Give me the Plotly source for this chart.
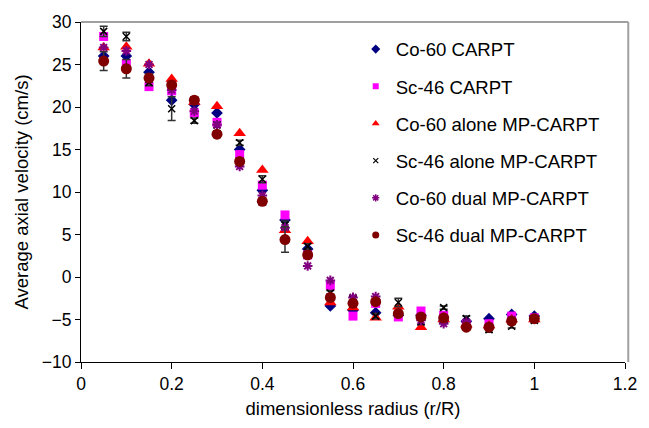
import plotly.graph_objects as go

r = [0.05, 0.1, 0.15, 0.2, 0.25, 0.3, 0.35, 0.4, 0.45, 0.5,
     0.55, 0.6, 0.65, 0.7, 0.75, 0.8, 0.85, 0.9, 0.95, 1.0]

co60_carpt = [26.0, 26.0, 24.1, 20.8, 20.3, 19.3, 15.0, 10.2, 6.7, 3.3,
              -3.4, -3.9, -4.2, -4.5, -4.5, -5.2, -5.2, -4.9, -4.4, -4.6]
sc46_carpt = [28.3, 25.1, 22.4, 21.9, 19.3, 18.2, 14.4, 10.8, 7.3, 2.6,
              -1.0, -4.6, -3.1, -4.7, -4.0, -4.5, -5.6, -5.5, -4.6, -4.8]
co60_alone = [27.0, 27.1, 25.1, 23.3, 20.6, 20.1, 16.9, 12.6, 5.5, 4.2,
              -3.0, -3.6, -4.8, -3.5, -5.9, -5.0, -5.6, -5.7, -5.0, -5.0]
sc46_alone = [28.9, 28.3, 22.9, 19.8, 18.4, 17.9, 15.8, 11.5, 6.1, 3.6,
              -1.9, -2.6, -4.6, -3.0, -5.3, -3.6, -4.9, -6.2, -5.8, -5.1]
sc46_alone_err = [0.6, 0.5, 0.4, 1.4, 0.3, 0.3, 0.3, 0.4, 0.5, 0.3,
                  0.3, 0.4, 0.3, 0.5, 0.3, 0.2, 0.3, 0.3, 0.2, 0.2]
co60_dual = [27.0, 26.6, 25.0, 22.0, 19.5, 17.9, 13.0, 9.6, 5.8, 1.3,
             -0.4, -2.4, -2.3, -4.3, -5.1, -5.5, -5.3, -5.8, -5.0, -4.9]
sc46_dual = [25.4, 24.5, 23.4, 22.6, 20.8, 16.8, 13.6, 8.9, 4.4, 2.6,
             -2.4, -3.1, -2.9, -4.3, -4.7, -4.8, -5.9, -5.9, -5.2, -4.9]
sc46_dual_err = [1.1, 1.1, 0.5, 0.4, 0.4, 0.4, 0.4, 0.4, 1.5, 0.4,
                 0.4, 0.4, 0.3, 0.3, 0.3, 0.3, 0.3, 0.3, 0.3, 0.3]

names = ["Co-60 CARPT", "Sc-46 CARPT", "Co-60 alone MP-CARPT",
         "Sc-46 alone MP-CARPT", "Co-60 dual MP-CARPT", "Sc-46 dual MP-CARPT"]
x_ticks = [0, 0.2, 0.4, 0.6, 0.8, 1, 1.2]
y_ticks = [-10, -5, 0, 5, 10, 15, 20, 25, 30]

FONT = "Liberation Sans, Arial, sans-serif"
err_color = "#333333"

series = [
    (co60_carpt, None, dict(symbol="diamond", size=9, color="#000080"), dict(symbol="diamond", size=7, color="#000080")),
    (sc46_carpt, None, dict(symbol="square", size=9, color="#FF00FF"), dict(symbol="square", size=6, color="#FF00FF")),
    (co60_alone, None, dict(symbol="triangle-up", size=11, color="#FF0000"), dict(symbol="triangle-up", size=7, color="#FF0000")),
    (sc46_alone, sc46_alone_err, dict(symbol="x-thin-open", size=7, color="black", line=dict(color="black", width=1.5)),
     dict(symbol="x-thin-open", size=5, color="black", line=dict(color="black", width=1.2))),
    (co60_dual, None, dict(symbol="asterisk-open", size=8, color="#800080", line=dict(color="#800080", width=2)),
     dict(symbol="asterisk-open", size=6, color="#800080", line=dict(color="#800080", width=1.5))),
    (sc46_dual, sc46_dual_err, dict(symbol="circle", size=11, color="#800000"), dict(symbol="circle", size=7, color="#800000")),
]

fig = go.Figure()
for i, (ys, err, mk, lmk) in enumerate(series):
    kw = {}
    if err is not None:
        kw["error_y"] = dict(type="data", array=err, visible=True, color=err_color, thickness=1.5, width=4)
    fig.add_trace(go.Scatter(x=r, y=ys, mode="markers", marker=mk, name=names[i],
                             showlegend=False, **kw))
for i, (ys, err, mk, lmk) in enumerate(series):
    fig.add_trace(go.Scatter(x=[None], y=[None], mode="markers", marker=lmk, name=names[i],
                             legendgroup=f"g{i}", showlegend=True))

fig.update_layout(
    width=649, height=428,
    margin=dict(l=81, r=17, t=18, b=66),
    paper_bgcolor="white", plot_bgcolor="white",
    font=dict(family=FONT, size=17, color="black"),
    showlegend=True,
    legend=dict(x=0.505, y=0.975, xanchor="left", yanchor="top",
                bgcolor="rgba(0,0,0,0)", font=dict(size=18.6, family=FONT),
                tracegroupgap=10, itemwidth=30),
    xaxis=dict(range=[0, 1.2], tickvals=x_ticks, ticktext=[str(v) for v in x_ticks],
               showgrid=False, zeroline=False, showline=True, linecolor="black", linewidth=1.2,
               ticks="outside", ticklen=6, tickcolor="black", tickfont=dict(size=17.5),
               title=dict(text="dimensionless radius (r/R)", font=dict(size=18.5), standoff=8)),
    yaxis=dict(range=[-10, 30], tickvals=y_ticks, showgrid=False, zeroline=False,
               showline=True, linecolor="black", linewidth=1.2,
               ticks="outside", ticklen=5, tickcolor="black", tickfont=dict(size=17.5),
               title=dict(text="Average axial velocity (cm/s)", font=dict(size=18.5), standoff=8)),
    shapes=[
        dict(type="line", xref="paper", yref="paper", x0=0, x1=1.006, y0=1, y1=1,
             line=dict(color="#A0A0A0", width=2)),
        dict(type="line", xref="paper", yref="paper", x0=1.006, x1=1.006, y0=0, y1=1,
             line=dict(color="#A0A0A0", width=2)),
    ],
)

fig.write_html("out.html")
